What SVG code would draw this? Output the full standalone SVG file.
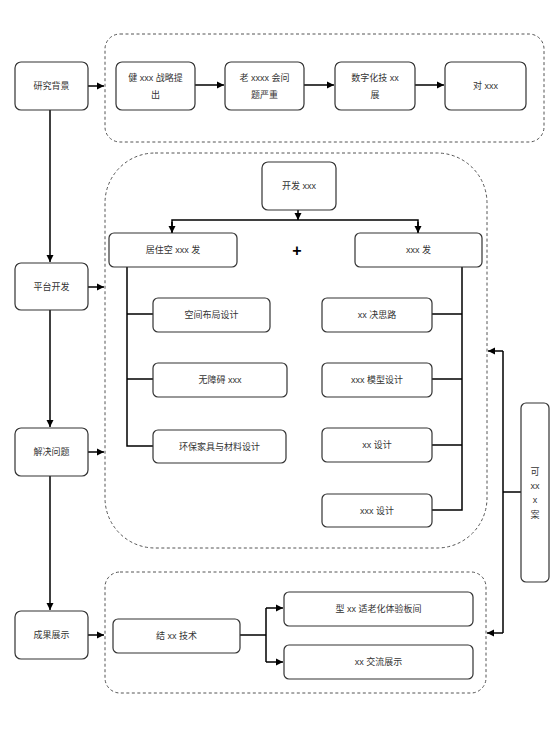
<svg xmlns="http://www.w3.org/2000/svg" width="550" height="755" viewBox="0 0 550 755">
<style>
.n{fill:#fff;stroke:#333;stroke-width:1.2}
.d{fill:none;stroke:#555;stroke-width:1;stroke-dasharray:3,2.5}
.c{fill:none;stroke:#000;stroke-width:1.5}
text{font-family:"Liberation Sans","Noto Sans CJK SC",sans-serif;font-size:9px;fill:#333;text-anchor:middle;dominant-baseline:central}
</style>
<defs>
<marker id="a" markerUnits="userSpaceOnUse" markerWidth="8" markerHeight="8" refX="7" refY="4" orient="auto">
<path d="M0,0.5 L7,4 L0,7.5 z" fill="#000"/>
</marker>
</defs>
<rect width="550" height="755" fill="#fff"/>
<g id="groups">
<rect class="d" x="105" y="34" width="439" height="108" rx="15"/>
<rect class="d" x="105" y="153" width="382" height="395" rx="50"/>
<rect class="d" x="105" y="572" width="381" height="121" rx="15"/>
</g>
<g id="connectors">
<path class="c" d="M50,110 V262" marker-end="url(#a)"/>
<path class="c" d="M50,310 V427" marker-end="url(#a)"/>
<path class="c" d="M50,476 V610" marker-end="url(#a)"/>
<path class="c" d="M88,86 H104" marker-end="url(#a)"/>
<path class="c" d="M88,287 H104" marker-end="url(#a)"/>
<path class="c" d="M88,452 H104" marker-end="url(#a)"/>
<path class="c" d="M88,635 H104" marker-end="url(#a)"/>
<path class="c" d="M195,85 H224" marker-end="url(#a)"/>
<path class="c" d="M304,85 H334" marker-end="url(#a)"/>
<path class="c" d="M415,85 H444" marker-end="url(#a)"/>
<path class="c" d="M298,210 V220" marker-end="url(#a)"/>
<path class="c" d="M172,233 V220 H418 V233"/>
<path class="c" d="M172,222 V233" marker-end="url(#a)"/>
<path class="c" d="M418,222 V233" marker-end="url(#a)"/>
<path class="c" d="M127,267 V446 H153 M127,314 H153 M127,379 H153"/>
<path class="c" d="M462,267 V510 H432 M462,314 H432 M462,379 H432 M462,445 H432"/>
<path class="c" d="M240,635 H266 M266,608 V662"/>
<path class="c" d="M266,608 H283" marker-end="url(#a)"/>
<path class="c" d="M266,662 H283" marker-end="url(#a)"/>
<path class="c" d="M521,492 H503 M503,351 V633"/>
<path class="c" d="M503,351 H488" marker-end="url(#a)"/>
<path class="c" d="M503,633 H487" marker-end="url(#a)"/>
</g>
<g id="n-yjbj"><rect class="n" x="15" y="62" width="73" height="48" rx="6"/><text x="51.5" y="86">研究背景</text></g>
<g id="n-ptkf"><rect class="n" x="15" y="263" width="73" height="47" rx="6"/><text x="51.5" y="287">平台开发</text></g>
<g id="n-jjwt"><rect class="n" x="15" y="428" width="73" height="48" rx="6"/><text x="51.5" y="452">解决问题</text></g>
<g id="n-cgzs"><rect class="n" x="15" y="611" width="73" height="48" rx="6"/><text x="51.5" y="635">成果展示</text></g>
<g id="n-t1"><rect class="n" x="116" y="62" width="79" height="48" rx="6"/><text x="155.5" y="78">健 xxx 战略提</text><text x="155.5" y="95">出</text></g>
<g id="n-t2"><rect class="n" x="225" y="62" width="79" height="48" rx="6"/><text x="264.5" y="78">老 xxxx 会问</text><text x="264.5" y="95">题严重</text></g>
<g id="n-t3"><rect class="n" x="335" y="62" width="80" height="48" rx="6"/><text x="375" y="78">数字化技 xx</text><text x="375" y="95">展</text></g>
<g id="n-t4"><rect class="n" x="445" y="62" width="81" height="48" rx="6"/><text x="485.5" y="86">对 xxx</text></g>
<g id="n-kf"><rect class="n" x="262" y="162" width="74" height="48" rx="6"/><text x="299" y="186">开发 xxx</text></g>
<g id="n-jz"><rect class="n" x="109" y="233" width="128" height="34" rx="5"/><text x="173" y="250">居住空 xxx 发</text></g>
<g id="n-plus"><text x="297" y="250" style="font-size:16px;font-weight:bold;fill:#000">+</text></g>
<g id="n-xf"><rect class="n" x="355" y="233" width="127" height="34" rx="5"/><text x="418.5" y="250">xxx 发</text></g>
<g id="n-l1"><rect class="n" x="153" y="298" width="117" height="34" rx="5"/><text x="211.5" y="315">空间布局设计</text></g>
<g id="n-l2"><rect class="n" x="153" y="363" width="134" height="34" rx="5"/><text x="220" y="380">无障碍 xxx</text></g>
<g id="n-l3"><rect class="n" x="153" y="430" width="133" height="33" rx="5"/><text x="219.5" y="446.5">环保家具与材料设计</text></g>
<g id="n-r1"><rect class="n" x="322" y="298" width="110" height="34" rx="5"/><text x="377" y="315">xx 决思路</text></g>
<g id="n-r2"><rect class="n" x="322" y="363" width="110" height="34" rx="5"/><text x="377" y="380">xxx 模型设计</text></g>
<g id="n-r3"><rect class="n" x="322" y="428" width="110" height="34" rx="5"/><text x="377" y="445">xx 设计</text></g>
<g id="n-r4"><rect class="n" x="322" y="494" width="110" height="33" rx="5"/><text x="377" y="510.5">xxx 设计</text></g>
<g id="n-jx"><rect class="n" x="113" y="619" width="127" height="34" rx="5"/><text x="176.5" y="636">结 xx 技术</text></g>
<g id="n-b1"><rect class="n" x="284" y="592" width="189" height="34" rx="5"/><text x="378.5" y="609">型 xx 适老化体验板间</text></g>
<g id="n-b2"><rect class="n" x="284" y="645" width="189" height="34" rx="5"/><text x="378.5" y="662">xx 交流展示</text></g>
<g id="n-side"><rect class="n" x="521" y="403" width="28" height="179" rx="5"/><text x="535" y="472">可</text><text x="535" y="486">xx</text><text x="535" y="500">x</text><text x="535" y="515">案</text></g>
</svg>
